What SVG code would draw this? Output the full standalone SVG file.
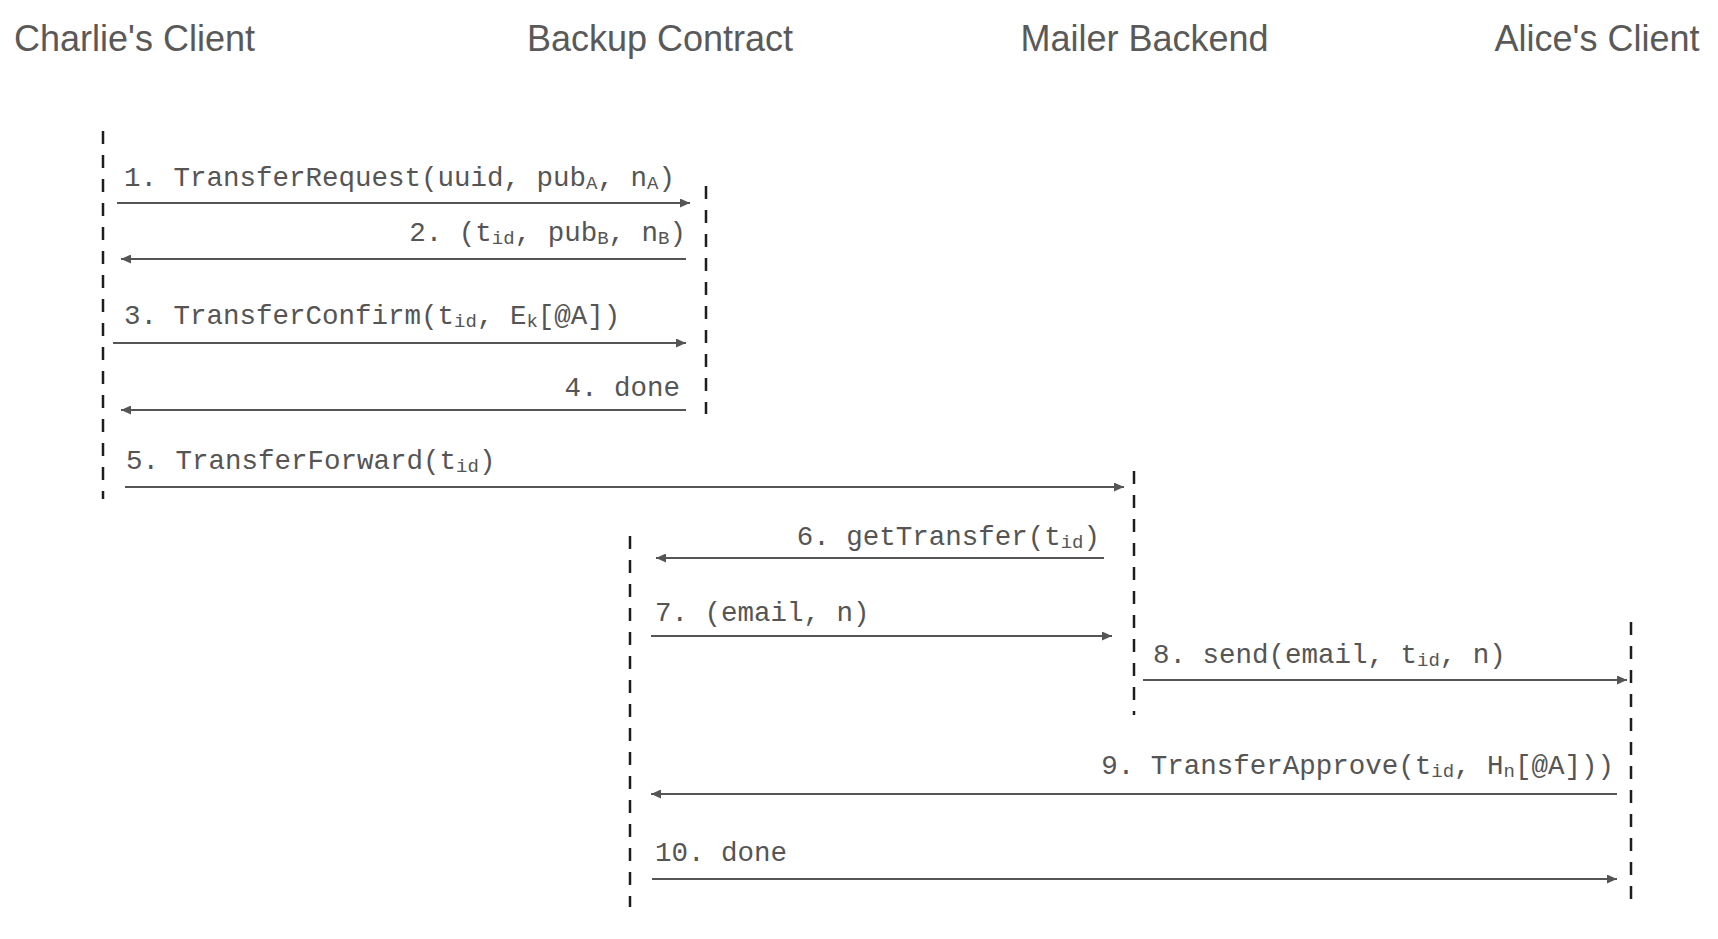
<svg xmlns="http://www.w3.org/2000/svg" width="1718" height="939" viewBox="0 0 1718 939">
<style>
.title{font-family:"Liberation Sans",Arial,sans-serif;font-size:36px;fill:#595959;text-anchor:middle}
.life{stroke:#1e1e1e;stroke-width:2.5;stroke-dasharray:13 11;fill:none}
.msg{stroke:#555;stroke-width:2;fill:none;marker-end:url(#ah)}
.lbl{font-family:"Liberation Mono","Courier New",monospace;font-size:27.5px;fill:#555}
.end{text-anchor:end}
.sub{font-size:19px}
</style>
<defs>
<marker id="ah" markerUnits="userSpaceOnUse" markerWidth="11" markerHeight="9" refX="10" refY="4.5" orient="auto">
<path d="M0,0 L10,4.5 L0,9 z" fill="#555"/>
</marker>
</defs>
<rect width="1718" height="939" fill="#fff"/>
<g id="charlie">
<text class="title" x="134.5" y="51">Charlie's Client</text>
<line class="life" x1="103" y1="131" x2="103" y2="499"/>
</g>
<g id="backup">
<text class="title" x="660" y="51">Backup Contract</text>
<line class="life" x1="706" y1="186" x2="706" y2="414"/>
<line class="life" x1="630" y1="536" x2="630" y2="907"/>
</g>
<g id="mailer">
<text class="title" x="1144.5" y="51">Mailer Backend</text>
<line class="life" x1="1134" y1="471" x2="1134" y2="715"/>
</g>
<g id="alice">
<text class="title" x="1597" y="51">Alice's Client</text>
<line class="life" x1="1631" y1="622" x2="1631" y2="909"/>
</g>
<g id="connectors">
<line class="msg" x1="117" y1="203" x2="690" y2="203"/>
<line class="msg" x1="686" y1="259" x2="121" y2="259"/>
<line class="msg" x1="113" y1="343" x2="686" y2="343"/>
<line class="msg" x1="686" y1="410" x2="121" y2="410"/>
<line class="msg" x1="125" y1="487" x2="1124" y2="487"/>
<line class="msg" x1="1104" y1="558" x2="656" y2="558"/>
<line class="msg" x1="651" y1="636" x2="1112" y2="636"/>
<line class="msg" x1="1143" y1="680" x2="1627" y2="680"/>
<line class="msg" x1="1617" y1="794" x2="651" y2="794"/>
<line class="msg" x1="652" y1="879" x2="1617" y2="879"/>
</g>
<g id="labels">
<text class="lbl" x="124" y="186">1. TransferRequest(uuid, pub<tspan class="sub" dy="3">A</tspan><tspan dy="-3">, n</tspan><tspan class="sub" dy="3">A</tspan><tspan dy="-3">)</tspan></text>
<text class="lbl end" x="686" y="241">2. (t<tspan class="sub" dy="3">id</tspan><tspan dy="-3">, pub</tspan><tspan class="sub" dy="3">B</tspan><tspan dy="-3">, n</tspan><tspan class="sub" dy="3">B</tspan><tspan dy="-3">)</tspan></text>
<text class="lbl" x="124" y="324">3. TransferConfirm(t<tspan class="sub" dy="3">id</tspan><tspan dy="-3">, E</tspan><tspan class="sub" dy="3">k</tspan><tspan dy="-3">[@A])</tspan></text>
<text class="lbl end" x="680" y="396">4. done</text>
<text class="lbl" x="126" y="469">5. TransferForward(t<tspan class="sub" dy="3">id</tspan><tspan dy="-3">)</tspan></text>
<text class="lbl end" x="1100" y="545">6. getTransfer(t<tspan class="sub" dy="3">id</tspan><tspan dy="-3">)</tspan></text>
<text class="lbl" x="655" y="621">7. (email, n)</text>
<text class="lbl" x="1153" y="663">8. send(email, t<tspan class="sub" dy="3">id</tspan><tspan dy="-3">, n)</tspan></text>
<text class="lbl end" x="1614" y="774">9. TransferApprove(t<tspan class="sub" dy="3">id</tspan><tspan dy="-3">, H</tspan><tspan class="sub" dy="3">n</tspan><tspan dy="-3">[@A]))</tspan></text>
<text class="lbl" x="655" y="861">10. done</text>
</g>
</svg>
